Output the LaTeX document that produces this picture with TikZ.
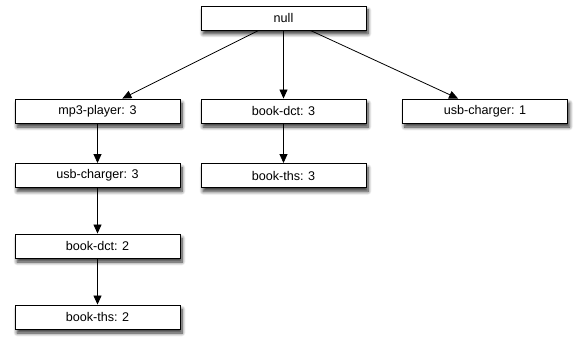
\documentclass[tikz,border=0pt]{standalone}
\usepackage{fontspec}
\setmainfont{Liberation Sans}
\usetikzlibrary{arrows.meta,shadows.blur}
\begin{document}
\begin{tikzpicture}[x=1pt,y=-1pt,
  box/.style={draw=black, line width=0.9pt, fill=white, minimum width=165pt, minimum height=24pt,
    inner sep=0pt, font=\fontsize{12.6}{14}\selectfont,
    blur shadow={shadow xshift=2pt, shadow yshift=-4pt, shadow blur steps=8, shadow blur radius=3.5pt, shadow opacity=80}},
  link/.style={line width=0.8pt, -{Triangle[length=9pt,width=8pt]}}]
\useasboundingbox (0,0) rectangle (577,337);
\node[box] (null) at (283.5,18) {null};
\node[box] (mp3) at (97.5,111) {mp3-player: 3};
\node[box] (usb3) at (97.5,175.5) {usb-charger: 3};
\node[box] (dct2) at (97.5,246) {book-dct: 2};
\node[box] (ths2) at (97.5,317) {book-ths: 2};
\node[box] (dct3) at (283.5,111) {book-dct: 3};
\node[box] (ths3) at (283.5,175.5) {book-ths: 3};
\node[box] (usb1) at (485,111) {usb-charger: 1};
\draw[link] (null) -- (mp3);
\draw[link] (null) -- (dct3);
\draw[link] (null) -- (usb1);
\draw[link] (mp3) -- (usb3);
\draw[link] (usb3) -- (dct2);
\draw[link] (dct2) -- (ths2);
\draw[link] (dct3) -- (ths3);
\end{tikzpicture}
\end{document}
